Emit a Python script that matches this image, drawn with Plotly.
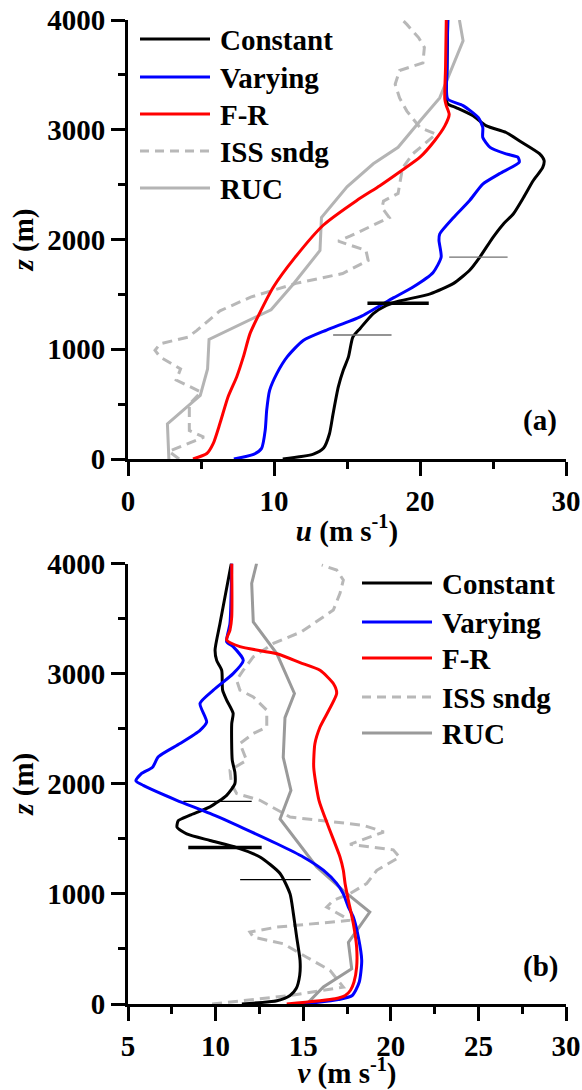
import plotly.graph_objects as go

# ---------------- Panel (a): u profiles ----------------
z_const_a = [0, 45, 100, 230, 415, 655, 810, 930, 1110, 1190, 1325, 1400, 1440, 1505, 1600, 1720, 1840,
             2020, 2140, 2235, 2385, 2535, 2655, 2720, 2780, 2900, 2975, 3035, 3130, 3200, 3235, 3290, 3570, 4000]
u_const = [10.6, 12.7, 13.4, 13.8, 14.05, 14.4, 14.75, 15.1, 15.4, 15.9, 16.8, 17.7, 18.6, 20.7, 22.3, 23.4, 24.1,
           25.0, 25.7, 26.4, 27.1, 27.75, 28.4, 28.5, 28.2, 26.8, 25.9, 24.55, 23.6, 22.5, 21.9, 21.8, 21.85, 21.9]

z_vary_a = [0, 42, 97, 265, 445, 625, 780, 930, 1080, 1175, 1295, 1470, 1565, 1700, 1840, 1990, 2050, 2200,
            2355, 2505, 2600, 2705, 2750, 2780, 2840, 2930, 3020, 3110, 3220, 3280, 3570, 4000]
u_vary = [7.25, 8.6, 9.15, 9.4, 9.5, 9.7, 10.2, 10.9, 12.0, 13.6, 15.9, 18.2, 19.5, 20.9, 21.45, 21.3, 21.35, 22.3,
          23.4, 24.3, 25.45, 26.8, 26.7, 25.9, 24.8, 24.3, 24.3, 24.0, 22.95, 21.9, 21.85, 21.9]

z_fr_a = [0, 50, 145, 325, 565, 750, 930, 1140, 1325, 1565, 1830, 2130, 2354, 2490, 2615, 2750, 2900, 3035,
          3140, 3220, 3280, 3570, 4000]
u_fr = [4.45, 5.4, 5.85, 6.3, 6.85, 7.45, 7.9, 8.35, 9.0, 9.95, 11.4, 13.37, 15.65, 17.25, 18.6, 20.0, 21.0, 21.7,
        22.0, 21.8, 21.7, 21.75, 21.8]

z_iss_a = [0, 70, 200, 260, 500, 610, 720, 820, 930, 990, 1050, 1110, 1170, 1350, 1475, 1600, 1690, 1810, 1900,
           1985, 2030, 2200, 2290, 2350, 2420, 2650, 2780, 2960, 3020, 3170, 3290, 3415, 3540, 3610, 3750, 3840,
           3960, 4000]
u_iss = [3.5, 2.8, 5.2, 4.2, 4.2, 5.0, 3.3, 3.6, 2.2, 1.85, 2.2, 4.1, 4.7, 6.3, 8.4, 11.5, 14.7, 16.45, 16.3,
         14.4, 15.2, 17.9, 17.4, 17.5, 18.5, 18.8, 19.5, 21.1, 20.0, 19.1, 18.6, 18.3, 18.6, 20.2, 20.3, 19.9,
         19.1, 18.8]

z_ruc_a = [0, 320, 580, 820, 1090, 1360, 1590, 1900, 2200, 2480, 2690, 2840, 3080, 3290, 3810, 4000]
u_ruc = [2.8, 2.7, 4.95, 5.45, 5.55, 9.8, 11.3, 13.15, 13.25, 15.0, 16.8, 18.5, 20.0, 21.35, 22.95, 22.7]

# Horizontal height markers (panel a): [x0, x1] at z
mark_z_a = [1130, 1420, 1840]
mark_u0 = [14.05, 16.4, 22.0]
mark_u1 = [18.05, 20.6, 26.0]

# ---------------- Panel (b): v profiles ----------------
z_const_b = [0, 30, 77, 140, 260, 395, 605, 820, 1000, 1185, 1335, 1420, 1485, 1545, 1605, 1665, 1715, 1790,
             1895, 2000, 2105, 2215, 2545, 2640, 2760, 2850, 3030, 3120, 3215, 3455, 3960, 4000]
v_const = [11.5, 13.5, 14.25, 14.6, 14.8, 14.82, 14.63, 14.44, 14.25, 13.68, 12.53, 11.2, 9.68, 8.35, 7.8, 7.87,
           8.54, 9.68, 10.63, 11.1, 11.1, 10.95, 10.92, 11.0, 10.63, 10.4, 10.35, 10.06, 9.97, 10.25, 10.85, 10.9]

z_vary_b = [0, 40, 77, 200, 395, 605, 790, 880, 1000, 1095, 1215, 1335, 1455, 1595, 1730, 1850, 1985, 2028,
            2090, 2150, 2245, 2365, 2485, 2560, 2730, 2850, 3000, 3120, 3245, 3290, 3455, 4000]
v_vary = [15.0, 17.0, 17.8, 18.2, 18.34, 18.15, 17.86, 17.58, 17.29, 16.91, 16.15, 15.0, 13.5, 11.6, 9.68, 7.78,
          5.87, 5.45, 5.75, 6.4, 6.73, 7.97, 9.11, 9.49, 9.11, 9.87, 11.0, 11.58, 11.0, 10.63, 10.82, 10.92]

z_fr_b = [0, 47, 77, 125, 200, 335, 515, 730, 940, 1095, 1215, 1335, 1607, 1850, 2150, 2365, 2515, 2820, 2910,
          3030, 3100, 3180, 3245, 3305, 3395, 3515, 4000]
v_fr = [14.06, 16.83, 17.4, 17.7, 17.9, 18.05, 18.05, 17.86, 17.58, 17.39, 17.29, 17.1, 16.45, 15.9, 15.6, 15.67,
        15.96, 16.91, 16.72, 15.96, 14.82, 13.5, 11.39, 10.63, 10.82, 10.92, 10.92]

z_iss_b = [0, 77, 153, 305, 425, 547, 607, 653, 698, 760, 880, 940, 1002, 1093, 1214, 1334, 1400, 1450, 1562,
           1623, 1698, 1850, 1911, 2000, 2122, 2213, 2365, 2456, 2516, 2668, 2789, 2850, 2941, 3031, 3152, 3274,
           3380, 3577, 3729, 3850, 3941, 3986]
v_iss = [9.8, 14.25, 17.29, 16.53, 15.2, 13.87, 12.15, 11.96, 13.49, 17.67, 16.34, 16.72, 17.67, 18.62, 19.2,
         20.5, 20.14, 17.67, 19.6, 18.43, 14.25, 12.53, 11.2, 10.9, 10.82, 11.77, 11.39, 12.15, 12.92, 12.92,
         12.15, 11.39, 11.2, 11.58, 12.15, 13.3, 14.9, 16.72, 17.1, 17.29, 16.91, 16.06]

z_ruc_b = [0, 155, 320, 560, 835, 1030, 1245, 1680, 1940, 2240, 2600, 2820, 3180, 3470, 3820, 4000]
v_ruc = [15.2, 16.15, 17.77, 17.58, 18.8, 17.29, 15.77, 13.68, 14.3, 13.86, 13.96, 14.5, 13.5, 12.15, 12.06, 12.34]

mark_z_b = [1130, 1420, 1840]
mark_v0 = [11.4, 8.44, 8.16]
mark_v1 = [15.43, 12.63, 12.06]

series_names = ["Constant", "Varying", "F-R", "ISS sndg", "RUC"]

FONT = "Liberation Serif"
W, H = 582, 1090
ML, MR, MT, MB = 128, 16, 20, 86
PW = W - ML - MR
PH = H - MT - MB


def px_x(px):
    return (px - ML) / PW


def px_y(py):
    return (H - MB - py) / PH


fig = go.Figure()


def add_panel(xa, ya, data, ruc_color):
    (zc, xc), (zv, xv), (zf, xf), (zi, xi), (zr, xr) = data
    fig.add_trace(go.Scatter(x=xi, y=zi, mode="lines", xaxis=xa, yaxis=ya, showlegend=False,
                             line=dict(color="#b8b8b8", width=3, dash="10px,6px")))
    fig.add_trace(go.Scatter(x=xr, y=zr, mode="lines", xaxis=xa, yaxis=ya, showlegend=False,
                             line=dict(color=ruc_color, width=3)))
    fig.add_trace(go.Scatter(x=xc, y=zc, mode="lines", xaxis=xa, yaxis=ya, showlegend=False,
                             line=dict(color="black", width=3, shape="spline", smoothing=0.6)))
    fig.add_trace(go.Scatter(x=xv, y=zv, mode="lines", xaxis=xa, yaxis=ya, showlegend=False,
                             line=dict(color="#0000ff", width=3, shape="spline", smoothing=0.6)))
    fig.add_trace(go.Scatter(x=xf, y=zf, mode="lines", xaxis=xa, yaxis=ya, showlegend=False,
                             line=dict(color="#ff0000", width=3, shape="spline", smoothing=0.6)))


add_panel("x", "y", [(z_const_a, u_const), (z_vary_a, u_vary), (z_fr_a, u_fr), (z_iss_a, u_iss),
                     (z_ruc_a, u_ruc)], "#b4b4b4")
add_panel("x2", "y2", [(z_const_b, v_const), (z_vary_b, v_vary), (z_fr_b, v_fr), (z_iss_b, v_iss),
                       (z_ruc_b, v_ruc)], "#9a9a9a")

# height markers
for xa, ya, zs, x0s, x1s, thin_col in [("x", "y", mark_z_a, mark_u0, mark_u1, "#707070"),
                                       ("x2", "y2", mark_z_b, mark_v0, mark_v1, "#000000")]:
    for i, (z, a, b) in enumerate(zip(zs, x0s, x1s)):
        thick = (i == 1)
        fig.add_trace(go.Scatter(x=[a, b], y=[z, z], mode="lines", xaxis=xa, yaxis=ya, showlegend=False,
                                 line=dict(color="black" if thick else thin_col, width=3.5 if thick else 1.3)))

# Custom legends (line samples + text)
leg_styles = [dict(color="black", width=3), dict(color="#0000ff", width=3), dict(color="#ff0000", width=3),
              dict(color="#b8b8b8", width=3, dash="9px,6px"), None]
shapes = []
annotations = []
for (x0, x1, xt, rows, ruc_col) in [(140, 210, 218, [39, 77, 114, 151, 188], "#b4b4b4"),
                                     (362, 432, 440, [583, 622, 658, 697, 733], "#9a9a9a")]:
    for name, st, ry in zip(series_names, leg_styles, rows):
        if st is None:
            st = dict(color=ruc_col, width=3)
        shapes.append(dict(type="line", xref="paper", yref="paper", x0=px_x(x0), x1=px_x(x1),
                           y0=px_y(ry), y1=px_y(ry), line=st))
        annotations.append(dict(text="<b>%s</b>" % name, xref="paper", yref="paper", x=px_x(xt), y=px_y(ry + 1),
                                xanchor="left", yanchor="middle", showarrow=False,
                                font=dict(family=FONT, size=29, color="black")))

annotations.append(dict(text="<b>(a)</b>", xref="paper", yref="paper", x=px_x(540), y=px_y(421),
                        xanchor="center", yanchor="middle", showarrow=False,
                        font=dict(family=FONT, size=29, color="black")))
annotations.append(dict(text="<b>(b)</b>", xref="paper", yref="paper", x=px_x(540), y=px_y(966),
                        xanchor="center", yanchor="middle", showarrow=False,
                        font=dict(family=FONT, size=29, color="black")))

tickfont = dict(family=FONT, size=29, color="black", weight="bold")
titlefont = dict(family=FONT, size=29, color="black")

common = dict(showline=True, linewidth=3, linecolor="black", ticks="outside", ticklen=14, tickwidth=3,
              tickcolor="black", showgrid=False, zeroline=False, tickfont=tickfont)

ya_dom = [px_y(459), 1.0]
yb_dom = [0.0, px_y(563.5)]

fig.update_layout(
    width=W, height=H, margin=dict(l=ML, r=MR, t=MT, b=MB, autoexpand=False),
    paper_bgcolor="white", plot_bgcolor="white", showlegend=False,
    font=dict(family=FONT),
    xaxis=dict(range=[0, 30], dtick=10, tick0=0, anchor="y", domain=[0, 1],
               minor=dict(dtick=5, ticks="outside", ticklen=7, tickwidth=3, tickcolor="black"),
               title=dict(text="<b><i>u</i> (m s<sup>-1</sup>)</b>", font=titlefont, standoff=5), **common),
    yaxis=dict(range=[0, 4000], dtick=1000, tick0=0, anchor="x", domain=ya_dom,
               minor=dict(dtick=500, ticks="outside", ticklen=7, tickwidth=3, tickcolor="black"),
               title=dict(text="<b><i>z</i> (m)</b>", font=titlefont, standoff=6), **common),
    xaxis2=dict(range=[5, 30], dtick=5, tick0=5, anchor="y2", domain=[0, 1],
                minor=dict(dtick=2.5, ticks="outside", ticklen=7, tickwidth=3, tickcolor="black"),
                title=dict(text="<b><i>v</i> (m s<sup>-1</sup>)</b>", font=titlefont, standoff=5), **common),
    yaxis2=dict(range=[0, 4000], dtick=1000, tick0=0, anchor="x2", domain=yb_dom,
                minor=dict(dtick=500, ticks="outside", ticklen=7, tickwidth=3, tickcolor="black"),
                title=dict(text="<b><i>z</i> (m)</b>", font=titlefont, standoff=6), **common),
    shapes=shapes, annotations=annotations,
)

fig.write_html("out.html")
